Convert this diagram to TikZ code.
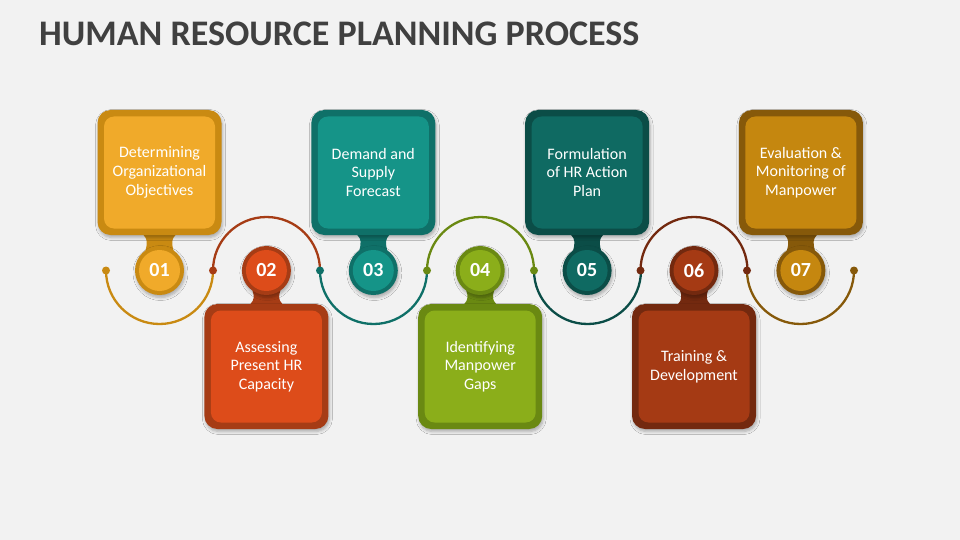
\documentclass[tikz,border=0pt]{standalone}
\usepackage{fontspec}
\setmainfont{Carlito}
\usetikzlibrary{shadows.blur}
\definecolor{bg}{HTML}{F2F2F2}
\definecolor{ttl}{HTML}{404040}
\definecolor{i1}{HTML}{F0AA2A}\definecolor{b1}{HTML}{C98A12}
\definecolor{i2}{HTML}{DD4C1A}\definecolor{b2}{HTML}{A63C15}
\definecolor{i3}{HTML}{159488}\definecolor{b3}{HTML}{0F7068}
\definecolor{i4}{HTML}{8BAE1A}\definecolor{b4}{HTML}{6A8912}
\definecolor{i5}{HTML}{0F6A62}\definecolor{b5}{HTML}{0B4D47}
\definecolor{i6}{HTML}{A53A14}\definecolor{b6}{HTML}{73290F}
\definecolor{i7}{HTML}{C5870F}\definecolor{b7}{HTML}{86590A}
\begin{document}
\begin{tikzpicture}[x=1pt,y=-1pt,
  softshadow/.style={blur shadow={shadow blur steps=6, shadow xshift=1pt, shadow yshift=-2.5pt, shadow opacity=30, shadow blur radius=3pt}},
  cardout/.style={rounded corners=13pt, minimum width=124pt, minimum height=125pt, inner sep=0pt, softshadow},
  cardin/.style={rounded corners=10pt, minimum width=111pt, minimum height=112pt, inner sep=0pt, text=white, align=center, font=\fontsize{16}{18.7}\selectfont},
  ringout/.style={circle, minimum size=49pt, inner sep=0pt, softshadow},
  ringin/.style={circle, minimum size=41pt, inner sep=0pt, text=white, font=\bfseries\fontsize{20}{20}\selectfont},
  dotnode/.style={circle, minimum size=8pt, inner sep=0pt},
  arcline/.style={line width=2.3pt}]
\fill[bg] (0,0) rectangle (960,540);
\useasboundingbox (0,0) rectangle (960,540);
\node[anchor=base west, inner sep=0pt, text=ttl, font=\bfseries\fontsize{36}{36}\selectfont] (title) at (39,46) {HUMAN RESOURCE PLANNING PROCESS};

% dots (end points of the arcs)
\node[dotnode] (d0) at (106,270.5) {};
\node[dotnode] (d1) at (213,270.5) {};
\node[dotnode] (d2) at (320,270.5) {};
\node[dotnode] (d3) at (427,270.5) {};
\node[dotnode] (d4) at (534,270.5) {};
\node[dotnode] (d5) at (640.5,270.5) {};
\node[dotnode] (d6) at (747,270.5) {};
\node[dotnode] (d7) at (854,270.5) {};

% arcs
\draw[arcline, b1] (d0.center) arc[start angle=180, end angle=0, radius=53.5];
\draw[arcline, b2] (d1.center) arc[start angle=180, end angle=360, radius=53.5];
\draw[arcline, b3] (d2.center) arc[start angle=180, end angle=0, radius=53.5];
\draw[arcline, b4] (d3.center) arc[start angle=180, end angle=360, radius=53.5];
\draw[arcline, b5] (d4.center) arc[start angle=180, end angle=0, radius=53.5];
\draw[arcline, b6] (d5.center) arc[start angle=180, end angle=360, radius=53.5];
\draw[arcline, b7] (d6.center) arc[start angle=180, end angle=0, radius=53.5];

% steps
\foreach \i/\cx/\cy/\s/\E/\num/\txt in {
  1/159.5/172.5/1/235/01/{Determining\\Organizational\\Objectives},
  2/266.4/366.5/-1/304/02/{Assessing\\Present HR\\Capacity},
  3/373.3/172.5/1/235/03/{Demand and\\Supply\\Forecast},
  4/480.2/366.5/-1/304/04/{Identifying\\Manpower\\Gaps},
  5/587.1/172.5/1/235/05/{Formulation\\of HR Action\\Plan},
  6/694/366.5/-1/304/06/{Training \&\\Development},
  7/800.9/172.5/1/235/07/{Evaluation \&\\Monitoring of\\Manpower}} {
  \fill[b\i] ({\cx-16},{\E-\s*3}) -- ({\cx-16},{\E})
     .. controls ({\cx-12},{\E+\s*4}) and ({\cx-12},{\E+\s*8}) .. ({\cx-14},{270.5-\s*20})
     -- ({\cx+14},{270.5-\s*20})
     .. controls ({\cx+12},{\E+\s*8}) and ({\cx+12},{\E+\s*4}) .. ({\cx+16},{\E})
     -- ({\cx+16},{\E-\s*3}) -- cycle;
  \node[cardout, fill=b\i] (card\i) at (\cx,\cy) {};
  \node[cardin, fill=i\i] (text\i) at (\cx,\cy) {\txt};
  \node[ringout, fill=b\i] (ring\i) at (\cx,270.5) {};
  \node[ringin, fill=i\i] (num\i) at (\cx,270.5) {\num};
}

% dots on top
\fill[b1] (d0) circle (4);
\fill[b2] (d1) circle (4);
\fill[b3] (d2) circle (4);
\fill[b4] (d3) circle (4);
\fill[b4] (d4) circle (4);
\fill[b6] (d5) circle (4);
\fill[b6] (d6) circle (4);
\fill[b7] (d7) circle (4);
\end{tikzpicture}
\end{document}
